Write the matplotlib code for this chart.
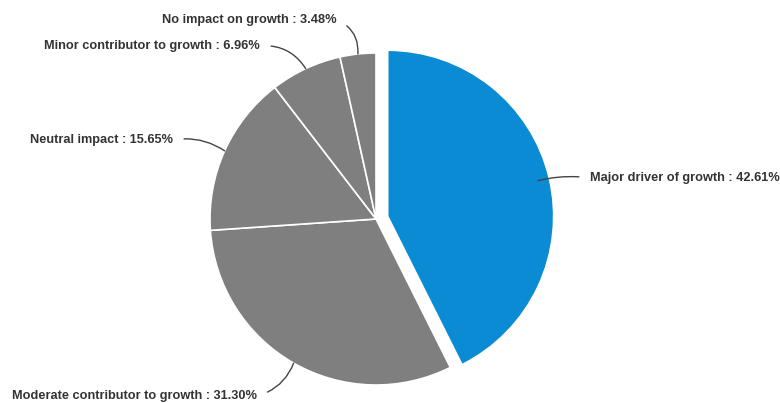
import numpy as np
import matplotlib.pyplot as plt

# Share of respondents by perceived impact on growth
labels = ['Major driver of growth', 'Moderate contributor to growth',
          'Neutral impact', 'Minor contributor to growth', 'No impact on growth']
shares = [42.61, 31.30, 15.65, 6.96, 3.48]
colors = ['#0a8bd3', '#7f7f7f', '#7f7f7f', '#7f7f7f', '#7f7f7f']

plt.rcParams['font.family'] = ['Liberation Sans', 'DejaVu Sans']

fig = plt.figure(figsize=(7.8, 4.03), dpi=100)
ax = fig.add_axes([0, 0, 1, 1])

# axes in pixel-like units so the offset of the pulled-out slice is easy to set
cx, cy, r = 376, 184, 166
wedges, _ = ax.pie(shares, colors=colors, explode=[12, 0, 0, 0, 0],
                   startangle=90, counterclock=False, center=(cx, cy),
                   radius=r, frame=True,
                   wedgeprops=dict(edgecolor='white', linewidth=1.2))
ax.set_xlim(0, 780)
ax.set_ylim(0, 403)
ax.set_aspect('equal')
ax.axis('off')

# text position, alignment, where the leader attaches, curvature
label_style = [
    ((590, 225), 'left', 0.93, (0, 0.5), 0.1),
    ((12, 7), 'left', 1.0, (1, 0.5), 0.25),
    ((173, 263), 'right', 1.0, (1, 0.5), -0.2),
    ((260, 357), 'right', 1.0, (1, 0.5), -0.3),
    ((337, 383), 'right', 1.0, (1, 0.5), -0.35),
]

for w, lab, val, (pos, ha, frac, rel, rad) in zip(wedges, labels, shares, label_style):
    ang = np.deg2rad((w.theta1 + w.theta2) / 2)
    wx, wy = w.center
    px = wx + frac * r * np.cos(ang)
    py = wy + frac * r * np.sin(ang)
    ax.annotate(f'{lab} : {val:.2f}%', xy=(px, py), xytext=pos,
                ha=ha, va='center', fontsize=9.2, fontweight='bold',
                color='#333333',
                arrowprops=dict(arrowstyle='-', color='#444444', lw=1.0,
                                shrinkA=6, shrinkB=0, relpos=rel,
                                connectionstyle=f'arc3,rad={rad}'))

fig.savefig('out.png', dpi=100)
